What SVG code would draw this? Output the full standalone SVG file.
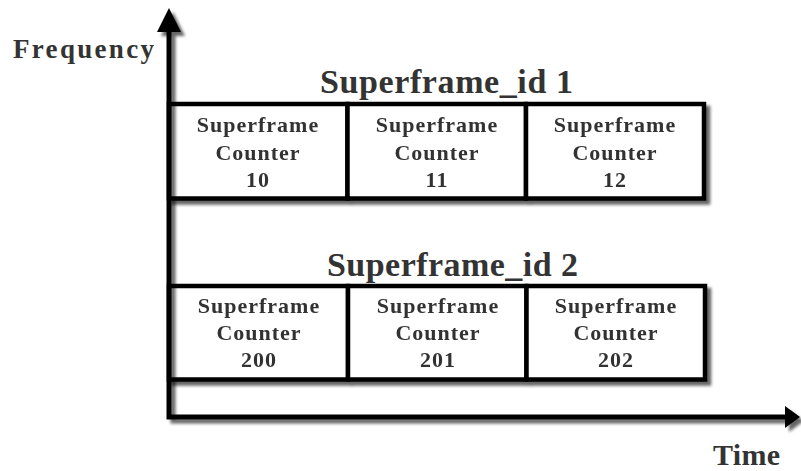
<svg xmlns="http://www.w3.org/2000/svg" width="801" height="471" viewBox="0 0 801 471">
<style>
.cell{fill:#fff;stroke:#000;stroke-width:4.5}
.ct{font-family:"Liberation Serif","Times New Roman",serif;font-weight:bold;font-size:22px;fill:#333;text-anchor:middle;letter-spacing:1px}
.title{font-family:"Liberation Serif","Times New Roman",serif;font-weight:bold;font-size:34px;fill:#333}
.lab{font-family:"Liberation Serif","Times New Roman",serif;font-weight:bold;fill:#333}
.axis{stroke:#000;stroke-width:5;fill:none}
</style>
<defs>
<filter id="sh" x="-10%" y="-10%" width="130%" height="130%">
<feDropShadow dx="4" dy="4" stdDeviation="1.5" flood-color="#000" flood-opacity="0.6"/>
</filter>
</defs>
<text class="lab" x="13" y="58" font-size="27" textLength="141" lengthAdjust="spacing">Frequency</text>
<text class="lab" x="713" y="465" font-size="30" textLength="67" lengthAdjust="spacing">Time</text>
<text class="title" x="320" y="93" textLength="253" lengthAdjust="spacing">Superframe_id 1</text>
<text class="title" x="327" y="276" textLength="251" lengthAdjust="spacing">Superframe_id 2</text>
<g id="row1" filter="url(#sh)">
<g id="c10"><rect class="cell" x="169" y="104" width="178.5" height="94.5"/>
<text class="ct" x="258" y="132">Superframe</text><text class="ct" x="258" y="160">Counter</text><text class="ct" x="258" y="187">10</text></g>
<g id="c11"><rect class="cell" x="347.5" y="104" width="178.5" height="94.5"/>
<text class="ct" x="437" y="132">Superframe</text><text class="ct" x="437" y="160">Counter</text><text class="ct" x="437" y="187">11</text></g>
<g id="c12"><rect class="cell" x="526" y="104" width="178" height="94.5"/>
<text class="ct" x="615" y="132">Superframe</text><text class="ct" x="615" y="160">Counter</text><text class="ct" x="615" y="187">12</text></g>
</g>
<g id="row2" filter="url(#sh)">
<g id="c200"><rect class="cell" x="169" y="286" width="179" height="93.5"/>
<text class="ct" x="259" y="313">Superframe</text><text class="ct" x="259" y="340">Counter</text><text class="ct" x="259" y="367">200</text></g>
<g id="c201"><rect class="cell" x="348" y="286" width="178.5" height="93.5"/>
<text class="ct" x="438" y="313">Superframe</text><text class="ct" x="438" y="340">Counter</text><text class="ct" x="438" y="367">201</text></g>
<g id="c202"><rect class="cell" x="526.5" y="286" width="178.5" height="93.5"/>
<text class="ct" x="616" y="313">Superframe</text><text class="ct" x="616" y="340">Counter</text><text class="ct" x="616" y="367">202</text></g>
</g>
<g id="connectors" filter="url(#sh)">
<path class="axis" d="M169,30 V417 H787"/>
<polygon points="169,8 181,32 157,32" fill="#000"/>
<polygon points="800,417 785,406 785,428" fill="#000"/>
</g>
</svg>
